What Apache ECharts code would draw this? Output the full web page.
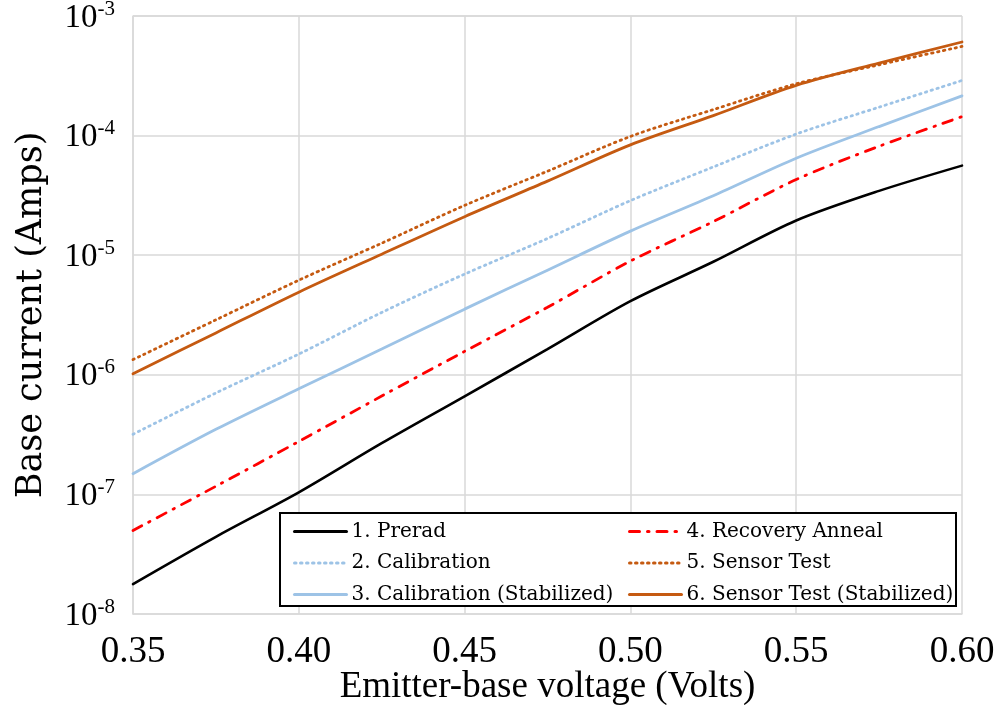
<!DOCTYPE html>
<html>
<head>
<meta charset="utf-8">
<title>Base current vs emitter-base voltage</title>
<script src="https://cdn.jsdelivr.net/npm/echarts@6/dist/echarts.min.js"></script>
<style>
  html, body { margin: 0; padding: 0; background: #fff; }
  #chart { width: 1002px; height: 705px; }
</style>
</head>
<body>
<div id="chart"></div>
<script>
// Emitter-base voltage sample points (Volts)
var voltage = [0.35, 0.375, 0.40, 0.425, 0.45, 0.475, 0.50, 0.525, 0.55, 0.575, 0.60];

// Base current (Amps) for each test condition
var prerad = [1.78e-8, 4.42e-8, 1.04e-7, 2.68e-7, 6.61e-7, 1.64e-6, 4.13e-6, 8.81e-6, 1.95e-5, 3.45e-5, 5.61e-5];
var calibration = [3.18e-7, 7.05e-7, 1.49e-6, 3.32e-6, 6.95e-6, 1.38e-5, 2.86e-5, 5.47e-5, 1.03e-4, 1.73e-4, 2.89e-4];
var calibrationStab = [1.49e-7, 3.50e-7, 7.64e-7, 1.64e-6, 3.54e-6, 7.50e-6, 1.59e-5, 3.14e-5, 6.47e-5, 1.19e-4, 2.15e-4];
var recoveryAnneal = [4.99e-8, 1.17e-7, 2.77e-7, 6.64e-7, 1.57e-6, 3.67e-6, 8.93e-6, 1.91e-5, 4.29e-5, 8.15e-5, 1.44e-4];
var sensorTest = [1.34e-6, 2.88e-6, 6.18e-6, 1.26e-5, 2.61e-5, 5.04e-5, 9.84e-5, 1.65e-4, 2.71e-4, 3.91e-4, 5.56e-4];
var sensorTestStab = [1.02e-6, 2.24e-6, 4.91e-6, 1.02e-5, 2.10e-5, 4.16e-5, 8.36e-5, 1.47e-4, 2.63e-4, 4.04e-4, 6.06e-4];

// Axis ranges and tick labels
var xTicks = ['0.35', '0.40', '0.45', '0.50', '0.55', '0.60'];
var yMin = 1e-8, yMax = 1e-3;

var names = ['1. Prerad', '2. Calibration', '3. Calibration (Stabilized)',
             '4. Recovery Anneal', '5. Sensor Test', '6. Sensor Test (Stabilized)'];

function pairs(ys) {
  return voltage.map(function (v, i) { return [v, ys[i]]; });
}

var BLUE = '#9DC3E6', ORANGE = '#C55A11', RED = '#FF0000';

function lineSeries(name, ys, color, type, width, z) {
  return {
    name: name,
    type: 'line',
    data: pairs(ys),
    symbol: 'circle',
    showSymbol: false,
    smooth: 0.3,
    z: z,
    lineStyle: { color: color, width: width, type: type, cap: 'round' },
    itemStyle: { color: color },
    emphasis: { disabled: true }
  };
}

var chart = echarts.init(document.getElementById('chart'), null, { renderer: 'canvas' });

var legendText = { fontFamily: 'DejaVu Serif', fontSize: 20, color: '#000', lineHeight: 25 };

function legendBlock(items, left) {
  return {
    data: items,
    orient: 'vertical',
    left: left, top: 514,
    itemWidth: 52, itemHeight: 14, itemGap: 6.5,
    selectedMode: false,
    itemStyle: { opacity: 0 },
    lineStyle: { width: 3 },
    textStyle: legendText,
    z: 10
  };
}

chart.setOption({
  animation: false,
  backgroundColor: '#fff',
  grid: { left: 133, right: 40, top: 16, bottom: 91, containLabel: false, outerBoundsMode: 'none' },
  xAxis: {
    type: 'value',
    min: 0.35, max: 0.60, interval: 0.05,
    name: 'Emitter-base voltage (Volts)',
    nameLocation: 'middle',
    nameGap: 55,
    nameMoveOverlap: false,
    nameTextStyle: { fontFamily: 'Liberation Serif', fontSize: 37, color: '#000' },
    axisLine: { show: true, lineStyle: { color: '#D9D9D9', width: 1.5 } },
    axisTick: { show: false },
    splitLine: { show: true, lineStyle: { color: '#D9D9D9', width: 1.5 } },
    axisLabel: {
      margin: 20,
      fontFamily: 'Liberation Serif', fontSize: 37, color: '#000',
      formatter: function (v) {
        var s = v.toFixed(2);
        return xTicks.indexOf(s) >= 0 ? s : '';
      }
    }
  },
  yAxis: {
    type: 'log',
    logBase: 10,
    min: yMin, max: yMax,
    name: 'Base current (Amps)',
    nameLocation: 'middle',
    nameGap: 84,
    nameMoveOverlap: false,
    nameTextStyle: { fontFamily: 'DejaVu Serif', fontSize: 35, color: '#000' },
    axisLine: { show: true, lineStyle: { color: '#D9D9D9', width: 1.5 } },
    axisTick: { show: false },
    minorTick: { show: false },
    splitLine: { show: true, lineStyle: { color: '#D9D9D9', width: 1.5 } },
    axisLabel: {
      margin: 18,
      formatter: function (v) {
        var e = Math.round(Math.log10(v));
        return '{b|10}{s|' + e + '}';
      },
      rich: {
        b: { fontFamily: 'Liberation Serif', fontSize: 33, color: '#000', padding: [4, 0, 0, 0] },
        s: { fontFamily: 'Liberation Serif', fontSize: 21, color: '#000', padding: [0, 0, 14, 0] }
      }
    }
  },
  legend: [
    legendBlock([names[0], names[1], names[2]], 288),
    legendBlock([names[3], names[4], names[5]], 623)
  ],
  graphic: [
    {
      type: 'rect',
      z: 9,
      shape: { x: 280, y: 513, width: 676, height: 93 },
      style: { fill: '#fff', stroke: '#000', lineWidth: 2 }
    }
  ],
  series: [
    lineSeries(names[0], prerad, '#000000', 'solid', 2.6, 3),
    lineSeries(names[1], calibration, BLUE, [1.5, 4.5], 2.8, 3),
    lineSeries(names[2], calibrationStab, BLUE, 'solid', 2.8, 3),
    lineSeries(names[3], recoveryAnneal, RED, [10, 8, 1.5, 8], 2.8, 3),
    lineSeries(names[4], sensorTest, ORANGE, [1.5, 4.5], 2.8, 3),
    lineSeries(names[5], sensorTestStab, ORANGE, 'solid', 2.8, 3)
  ]
});
</script>
</body>
</html>
